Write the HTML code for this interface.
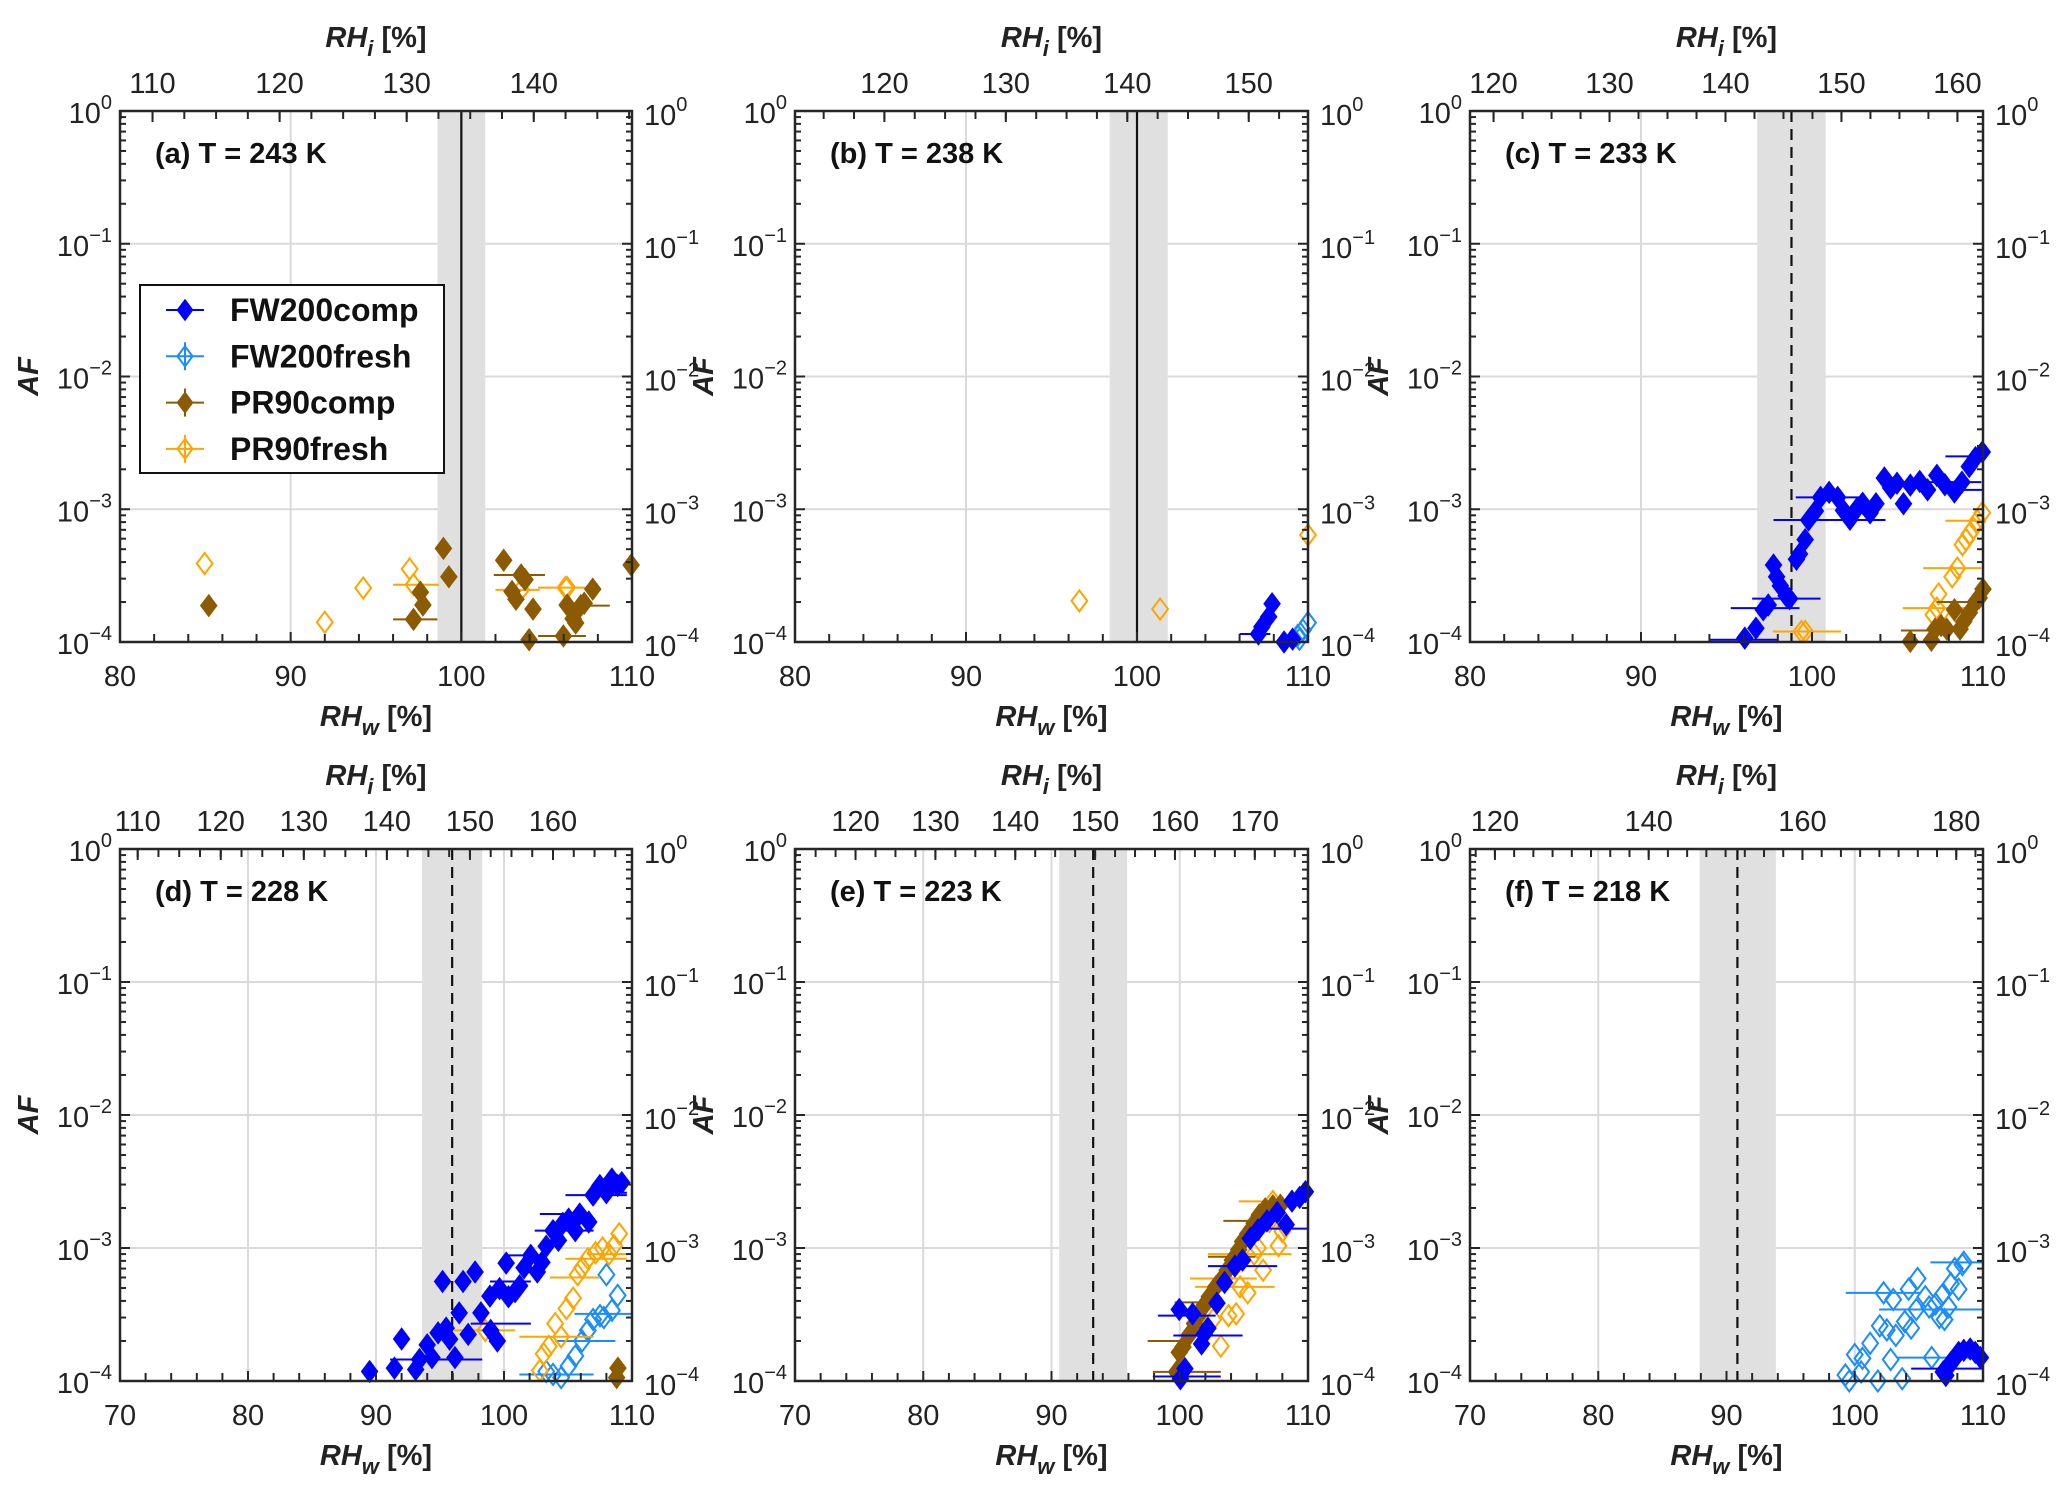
<!DOCTYPE html>
<html><head><meta charset="utf-8"><style>
body{margin:0;background:#fff}
svg{display:block;font-family:"Liberation Sans",Arial,sans-serif}
</style></head><body>
<svg id="fig" width="2067" height="1494" viewBox="0 0 2067 1494" xmlns="http://www.w3.org/2000/svg"></svg>
<script>
// ---------- data ----------
const panelIds = ['a','b','c','d','e','f'];
const panelTitles = ['(a) T = 243 K','(b) T = 238 K','(c) T = 233 K','(d) T = 228 K','(e) T = 223 K','(f) T = 218 K'];
const xMins = [80,80,80,70,70,70];
const xMaxs = [110,110,110,110,110,110];
const rhiRatio = [1.343,1.408,1.4746,1.541,1.606,1.668];
const rhiTicksA = [110,120,130,140];
const rhiTicksB = [120,130,140,150];
const rhiTicksC = [120,130,140,150,160];
const rhiTicksD = [110,120,130,140,150,160];
const rhiTicksE = [120,130,140,150,160,170];
const rhiTicksF = [120,140,160,180];
const xTicksTop = [80,90,100,110];
const xTicksBottom = [70,80,90,100,110];
const yDecades = [0,-1,-2,-3,-4];
const bandLo = [98.6,98.4,96.8,93.6,90.6,87.9];
const bandHi = [101.4,101.8,100.8,98.3,95.9,93.85];
const refLine = [100,100,98.8,95.95,93.25,90.85];
const refDashed = [false,false,true,true,true,true];
const seriesNames = ['FW200comp','FW200fresh','PR90comp','PR90fresh'];
const seriesColors = ['#0000ff','#1a8cff','#8c5a00','#ffa500'];
const seriesFilled = [true,false,true,false];

// panel a
const a_PR90fresh_x = [84.96,92.0,94.25,96.97,97.2,103.5,106.1,106.2];
const a_PR90fresh_y = [3.9e-4,1.41e-4,2.55e-4,3.55e-4,2.7e-4,2.47e-4,2.57e-4,2.57e-4];
const a_PR90fresh_err = [[2.7e-4,96,98.7],[2.47e-4,102,104.6],[2.57e-4,104.5,108]];
const a_PR90comp_x = [85.2,97.2,97.6,97.75,98.95,99.27,102.48,103.5,103.73,102.97,103.2,104.2,103.97,105.98,106.2,106.7,106.55,107.0,107.2,107.7,109.95];
const a_PR90comp_y = [1.88e-4,1.48e-4,2.37e-4,1.9e-4,5.07e-4,3.1e-4,4.13e-4,3.2e-4,2.95e-4,2.4e-4,2.1e-4,1.77e-4,1.04e-4,1.11e-4,1.9e-4,1.39e-4,1.5e-4,1.88e-4,1.96e-4,2.5e-4,3.8e-4];
const a_PR90comp_err = [[1.48e-4,96,98.6],[3.2e-4,101.9,104.9],[1.11e-4,104.5,107.3],[1.88e-4,106,108.7]];
// panel b
const b_PR90fresh_x = [96.63,101.35,110];
const b_PR90fresh_y = [2.04e-4,1.77e-4,6.4e-4];
const b_FW200comp_x = [107.1,107.3,107.7,107.9,108.6,109.1];
const b_FW200comp_y = [1.15e-4,1.3e-4,1.55e-4,1.94e-4,1.0e-4,1.05e-4];
const b_FW200comp_err = [[1.15e-4,106,107.8]];
const b_FW200fresh_x = [109.4,109.5,109.7,110];
const b_FW200fresh_y = [1.12e-4,1.05e-4,1.23e-4,1.4e-4];
// panel c
const c_FW200comp_x = [96.07,96.72,97.15,97.44,97.75,97.93,98.15,98.49,98.69,99.09,99.27,99.6,99.8,100.2,100.5,101.0,101.5,101.84,102.22,102.6,102.96,103.4,103.74,104.23,104.6,104.97,105.35,105.75,106.3,106.76,107.3,107.77,108.33,108.77,109.2,109.56,109.96];
const c_FW200comp_y = [1.07e-4,1.27e-4,1.75e-4,1.9e-4,3.8e-4,3.1e-4,2.65e-4,2.23e-4,2.12e-4,4.2e-4,4.6e-4,5.9e-4,8.3e-4,9.7e-4,1.23e-3,1.34e-3,1.23e-3,9.8e-4,8.4e-4,1.0e-3,1.11e-3,9.4e-4,1.1e-3,1.72e-3,1.45e-3,1.57e-3,1.1e-3,1.52e-3,1.62e-3,1.4e-3,1.8e-3,1.53e-3,1.35e-3,1.6e-3,2.1e-3,2.45e-3,2.7e-3];
const c_FW200comp_err = [[1.04e-4,94.0,98.0],[1.8e-4,95.25,99.27],[2.12e-4,96.5,100.5],[8.3e-4,97.75,104.3],[1.23e-3,99.05,102.96],[1.6e-3,105.3,109.9],[1.4e-3,107.8,110],[2.5e-3,107.8,109.9]];
const c_PR90fresh_x = [99.38,99.6,107.1,107.3,107.4,108.0,108.2,108.5,108.8,109.0,109.2,109.44,109.67,109.96];
const c_PR90fresh_y = [1.2e-4,1.2e-4,1.6e-4,1.8e-4,2.3e-4,1.38e-4,3.1e-4,3.6e-4,5.4e-4,5.9e-4,6.5e-4,7.2e-4,8.2e-4,9.4e-4];
const c_PR90fresh_err = [[1.2e-4,97.7,101.7],[1.8e-4,105.3,109.3],[3.6e-4,106.5,109.9],[8.2e-4,107.8,110]];
const c_PR90comp_x = [105.75,106.98,107.2,107.55,107.88,108.33,108.66,108.88,109.2,109.56,109.78,110];
const c_PR90comp_y = [1.01e-4,1.03e-4,1.25e-4,1.33e-4,1.25e-4,1.75e-4,1.25e-4,1.43e-4,1.66e-4,2.0e-4,2.15e-4,2.5e-4];
const c_PR90comp_err = [[1.22e-4,105.2,107.5],[2.0e-4,107.3,109.8]];
// panel d
const d_FW200comp_x = [89.5,91.44,92.0,93.1,93.4,94.0,94.37,94.85,95.2,95.48,95.75,96.17,96.5,96.8,97.2,97.74,98.2,98.96,98.9,99.48,99.65,100.17,100.35,100.87,101.22,101.57,102.09,102.6,102.96,103.3,103.83,104.25,104.6,105.05,105.57,105.92,106.62,106.96,107.49,108.0,108.43,108.88,109.2];
const d_FW200comp_y = [1.18e-4,1.25e-4,2.07e-4,1.22e-4,1.45e-4,1.87e-4,1.5e-4,2.3e-4,5.6e-4,2.5e-4,2.06e-4,1.5e-4,3.25e-4,5.6e-4,2.24e-4,6.6e-4,3.25e-4,2.4e-4,4.35e-4,2.0e-4,4.95e-4,7.7e-4,4.3e-4,4.7e-4,5.2e-4,7.1e-4,8.8e-4,6.6e-4,7.8e-4,1.03e-3,1.35e-3,1.14e-3,1.53e-3,1.65e-3,1.35e-3,1.8e-3,1.57e-3,2.5e-3,2.95e-3,2.6e-3,3.3e-3,2.95e-3,3.1e-3];
const d_FW200comp_err = [[1.45e-4,91.1,98.3],[2.7e-4,97.4,102.1],[5.6e-4,98.9,102.1],[8.8e-4,100.3,103.3],[1.35e-3,102.4,107.0],[1.8e-3,102.8,106.2],[2.5e-3,104.8,109.6],[2.6e-3,107.2,109.6]];
const d_PR90fresh_x = [98.54,102.8,103.1,103.5,104.0,104.46,104.88,105.4,105.75,106.1,106.55,107.15,107.7,108.2,108.6,109.0];
const d_PR90fresh_y = [2.4e-4,1.2e-4,1.6e-4,1.82e-4,2.7e-4,2.15e-4,3.5e-4,4.2e-4,6.3e-4,7.1e-4,8.3e-4,9.2e-4,1.0e-3,9.0e-4,1.04e-3,1.28e-3];
const d_PR90fresh_err = [[2.4e-4,96.1,100.87],[2.15e-4,101.2,107.0],[6.0e-4,103.6,107.5],[8.3e-4,104.8,109.6],[9.0e-4,106.5,109.6]];
const d_FW200fresh_x = [103.3,103.83,104.46,105.05,105.57,106.1,106.55,106.96,107.5,107.8,108.43,108.88,108.0];
const d_FW200fresh_y = [1.18e-4,1.12e-4,1.06e-4,1.3e-4,1.54e-4,2.0e-4,2.4e-4,2.9e-4,3.1e-4,3.0e-4,3.4e-4,4.4e-4,6.3e-4];
const d_FW200fresh_err = [[1.12e-4,101.2,107.0],[3.2e-4,105.5,110],[2.0e-4,104.0,108.7]];
const d_PR90comp_x = [108.8,108.9];
const d_PR90comp_y = [1.06e-4,1.25e-4];
// panel e
const e_PR90comp_x = [99.75,99.96,100.25,100.7,101.15,101.45,101.9,102.3,102.8,103.2,103.7,104.1,104.6,104.9,105.3,105.8,106.2,106.66,107.26,107.85];
const e_PR90comp_y = [1.17e-4,1.64e-4,1.8e-4,2.2e-4,2.7e-4,3.1e-4,3.7e-4,4.3e-4,5.1e-4,5.7e-4,6.8e-4,8.1e-4,9.7e-4,1.12e-3,1.28e-3,1.53e-3,1.77e-3,1.97e-3,2.08e-3,2.1e-3];
const e_PR90comp_err = [[1.17e-4,97.9,103.2],[2.0e-4,97.5,101.0],[3.9e-4,99.6,103.2],[1.6e-3,103.4,108.6],[8.6e-4,102.2,105.9]];
const e_FW200comp_x = [100.05,100.4,99.96,101.0,101.9,101.7,102.2,102.9,103.5,104.3,104.9,105.5,106.1,106.8,107.6,108.3,108.75,109.35,109.8];
const e_FW200comp_y = [1.04e-4,1.24e-4,3.45e-4,3.2e-4,2.25e-4,1.9e-4,2.5e-4,3.85e-4,5.5e-4,7.3e-4,8.1e-4,1.18e-3,1.37e-3,1.6e-3,1.85e-3,1.5e-3,2.25e-3,2.4e-3,2.65e-3];
const e_FW200comp_err = [[1.08e-4,97.9,103.2],[3.1e-4,98.3,102.8],[2.2e-4,99.5,104.9],[7.3e-4,102.2,107.6],[1.4e-3,106.0,110]];
const e_PR90fresh_x = [101.9,102.6,103.2,103.5,103.8,104.4,104.7,105.3,105.8,106.1,106.5,107.0,107.26,107.7,108.0,108.2];
const e_PR90fresh_y = [2.4e-4,2.9e-4,1.83e-4,5.9e-4,3.1e-4,3.2e-4,5.1e-4,4.6e-4,9.0e-4,1.0e-3,6.8e-4,1.58e-3,2.24e-3,1.04e-3,1.33e-3,1.45e-3];
const e_PR90fresh_err = [[5.9e-4,100.8,106.0],[2.24e-3,104.6,109.9],[9.0e-4,102.2,108.7],[5.1e-4,101.2,107.4]];
// panel f
const f_FW200fresh_x = [99.27,99.57,100.0,100.6,100.5,101.2,101.8,101.95,102.25,102.5,102.8,103.0,103.2,103.7,103.9,104.2,104.4,104.8,104.9,105.5,105.8,106.0,106.3,106.6,106.8,107.0,107.3,107.5,107.8,108.1,108.4,108.5];
const f_FW200fresh_y = [1.11e-4,1.0e-4,1.58e-4,1.48e-4,1.17e-4,1.92e-4,1.0e-4,2.6e-4,4.6e-4,2.42e-4,1.45e-4,4.1e-4,2.2e-4,1.04e-4,2.8e-4,4.9e-4,2.5e-4,3.45e-4,5.9e-4,4.3e-4,3.6e-4,1.5e-4,3.8e-4,3.0e-4,4.4e-4,2.9e-4,3.6e-4,5.4e-4,7.0e-4,4.9e-4,7.5e-4,7.8e-4];
const f_FW200fresh_err = [[4.6e-4,99.3,105.2],[3.45e-4,101.9,110],[1.5e-4,103.3,109.5],[7.8e-4,105.9,110]];
const f_FW200comp_x = [107.1,106.9,107.2,107.5,107.8,108.1,108.5,109.0,109.4,109.8];
const f_FW200comp_y = [1.1e-4,1.17e-4,1.24e-4,1.38e-4,1.48e-4,1.64e-4,1.7e-4,1.74e-4,1.64e-4,1.5e-4];
const f_FW200comp_err = [[1.24e-4,104.4,110]];

// ---------- layout ----------
const NS='http://www.w3.org/2000/svg';
const svg=document.getElementById('fig');
const colX=[[120,632],[795,1308],[1470,1983]];
const rowY=[[111,642],[849,1381]];
const rhiTickSets=[rhiTicksA,rhiTicksB,rhiTicksC,rhiTicksD,rhiTicksE,rhiTicksF];
const seriesByPanel={
 a:{PR90fresh:[a_PR90fresh_x,a_PR90fresh_y,a_PR90fresh_err],PR90comp:[a_PR90comp_x,a_PR90comp_y,a_PR90comp_err]},
 b:{PR90fresh:[b_PR90fresh_x,b_PR90fresh_y,[]],FW200comp:[b_FW200comp_x,b_FW200comp_y,b_FW200comp_err],FW200fresh:[b_FW200fresh_x,b_FW200fresh_y,[]]},
 c:{PR90comp:[c_PR90comp_x,c_PR90comp_y,c_PR90comp_err],PR90fresh:[c_PR90fresh_x,c_PR90fresh_y,c_PR90fresh_err],FW200comp:[c_FW200comp_x,c_FW200comp_y,c_FW200comp_err]},
 d:{FW200fresh:[d_FW200fresh_x,d_FW200fresh_y,d_FW200fresh_err],PR90fresh:[d_PR90fresh_x,d_PR90fresh_y,d_PR90fresh_err],FW200comp:[d_FW200comp_x,d_FW200comp_y,d_FW200comp_err],PR90comp:[d_PR90comp_x,d_PR90comp_y,[]]},
 e:{FW200comp:[e_FW200comp_x,e_FW200comp_y,e_FW200comp_err],PR90comp:[e_PR90comp_x,e_PR90comp_y,e_PR90comp_err],PR90fresh:[e_PR90fresh_x,e_PR90fresh_y,e_PR90fresh_err]},
 f:{FW200fresh:[f_FW200fresh_x,f_FW200fresh_y,f_FW200fresh_err],FW200comp:[f_FW200comp_x,f_FW200comp_y,f_FW200comp_err]}
};

function el(tag,attrs,parent){const e=document.createElementNS(NS,tag);for(const k in attrs)e.setAttribute(k,attrs[k]);(parent||svg).appendChild(e);return e;}
function diamond(g,cx,cy,color,filled,r){
  return el('polygon',{points:`${cx},${cy-r} ${cx+r*0.75},${cy} ${cx},${cy+r} ${cx-r*0.75},${cy}`,fill:filled?color:'none',stroke:color,'stroke-width':filled?1.5:2},g);
}
function powLabel(g,x,y,exp,anchor){
  const t=el('text',{x:x,y:y,'font-size':29,'text-anchor':anchor,fill:'#222'},g);
  t.appendChild(document.createTextNode('10'));
  const s=el('tspan',{dy:-14,'font-size':20},t);
  s.textContent=exp===0?'0':'−'+(-exp);
  return t;
}

panelIds.forEach((pid,i)=>{
  const [x0,x1]=colX[i%3],[y0,y1]=rowY[Math.floor(i/3)];
  const xmin=xMins[i],xmax=xMaxs[i];
  const sx=v=>x0+(v-xmin)/(xmax-xmin)*(x1-x0);
  const sy=v=>y1-(Math.log10(v)+4)/4*(y1-y0);
  const sxi=v=>sx(v/rhiRatio[i]);
  const g=el('g',{});
  
  
  const xt=xmin===80?xTicksTop:xTicksBottom;
  xt.forEach(v=>{if(v>xmin&&v<xmax)el('line',{x1:sx(v),x2:sx(v),y1:y0,y2:y1,stroke:'#dadada','stroke-width':2},g);});
  yDecades.forEach(d=>{if(d>-4&&d<0)el('line',{x1:x0,x2:x1,y1:sy(Math.pow(10,d)),y2:sy(Math.pow(10,d)),stroke:'#dadada','stroke-width':2},g);});
  const band=el('rect',{x:sx(bandLo[i]),y:y0,width:sx(bandHi[i])-sx(bandLo[i]),height:y1-y0,fill:'#e0e0e0'},g);
  
  
  const rl=el('line',{x1:sx(refLine[i]),x2:sx(refLine[i]),y1:y0,y2:y1,stroke:'#111','stroke-width':2.2},g);
  if(refDashed[i])rl.setAttribute('stroke-dasharray','11,7');
  
  
  const ser=seriesByPanel[pid];
  ['FW200fresh','PR90fresh','PR90comp','FW200comp'].forEach(name=>{
    if(!ser[name])return;
    const si=seriesNames.indexOf(name),col=seriesColors[si];
    const [xs,ys,errs]=ser[name];
    const sg=el('g',{},g);
    
    
    errs.forEach(e=>{
      const ln=el('line',{x1:sx(e[1]),x2:sx(e[2]),y1:sy(e[0]),y2:sy(e[0]),stroke:col,'stroke-width':2},sg);
      
      
    });
    xs.forEach((xv,k)=>{
      const m=diamond(sg,sx(Math.min(xv,xmax)),sy(ys[k]),col,seriesFilled[si],10.5);
      
      
    });
  });
  el('rect',{x:x0,y:y0,width:x1-x0,height:y1-y0,fill:'none',stroke:'#262626','stroke-width':2.5},g);
  for(let v=xmin;v<=xmax;v+=2){const L=(v%10===0)?10:8;el('line',{x1:sx(v),x2:sx(v),y1:y1,y2:y1-L,stroke:'#262626','stroke-width':2},g);}
  xt.forEach(v=>{const t=el('text',{x:sx(v),y:y1+44,'font-size':29,'text-anchor':'middle',fill:'#222'},g);t.textContent=v;
    });
  const rlo=xmin*rhiRatio[i],rhi=xmax*rhiRatio[i];
  for(let v=Math.ceil(rlo/2.5)*2.5;v<=rhi;v+=2.5){el('line',{x1:sxi(v),x2:sxi(v),y1:y0,y2:y0+8,stroke:'#262626','stroke-width':2},g);}
  rhiTickSets[i].forEach(v=>{el('line',{x1:sxi(v),x2:sxi(v),y1:y0,y2:y0+11,stroke:'#262626','stroke-width':2},g);
    const t=el('text',{x:sxi(v),y:y0-18,'font-size':29,'text-anchor':'middle',fill:'#222'},g);t.textContent=v;
    });
  for(let d=-4;d<0;d++){for(let m=1;m<10;m++){const yy=sy(m*Math.pow(10,d));const L=m===1?10:6;
    el('line',{x1:x0,x2:x0+L,y1:yy,y2:yy,stroke:'#262626','stroke-width':2},g);
    el('line',{x1:x1,x2:x1-L,y1:yy,y2:yy,stroke:'#262626','stroke-width':2},g);}}
  yDecades.forEach(d=>{const yy=sy(Math.pow(10,d));
    const tl=powLabel(g,x0-8,yy+12,d,'end');
    const tr=powLabel(g,x1+12,yy+14,d,'start');});
  const tt=el('text',{x:(x0+x1)/2,y:y0-64,'font-size':29,'font-weight':'bold','font-style':'italic','text-anchor':'middle',fill:'#222'},g);
  tt.appendChild(document.createTextNode('RH'));
  const ts=el('tspan',{dy:9,'font-size':22},tt);ts.textContent='i';
  const ts2=el('tspan',{dy:-9,'font-style':'normal'},tt);ts2.textContent=' [%]';
  
  const bt=el('text',{x:(x0+x1)/2,y:y1+84,'font-size':29,'font-weight':'bold','font-style':'italic','text-anchor':'middle',fill:'#222'},g);
  bt.appendChild(document.createTextNode('RH'));
  const bs=el('tspan',{dy:9,'font-size':22},bt);bs.textContent='w';
  const bs2=el('tspan',{dy:-9,'font-style':'normal'},bt);bs2.textContent=' [%]';
  
  const yt=el('text',{x:0,y:0,'font-size':29,'font-weight':'bold','font-style':'italic','text-anchor':'middle',fill:'#222',transform:`translate(${x0-82},${(y0+y1)/2}) rotate(-90)`},g);
  yt.textContent='AF';
  
  const pt=el('text',{x:x0+35,y:y0+52,'font-size':29,'font-weight':'bold',fill:'#111'},g);
  pt.textContent=panelTitles[i];
  
});

const lg=el('g',{});


el('rect',{x:140,y:285,width:304,height:188,fill:'#fff',stroke:'#111','stroke-width':2},lg);
seriesNames.forEach((n,k)=>{
  const yy=310+k*46.3,col=seriesColors[k];
  const eg=el('g',{},lg);
  
  
  el('line',{x1:166,x2:204,y1:yy,y2:yy,stroke:col,'stroke-width':2},eg);
  if(k>0)el('line',{x1:185,x2:185,y1:yy-14,y2:yy+14,stroke:col,'stroke-width':2},eg);
  diamond(eg,185,yy,col,seriesFilled[k],10);
  const t=el('text',{x:230,y:yy+11,'font-size':32,'font-weight':'bold',fill:'#111'},eg);
  t.textContent=n;
});
</script>
</body></html>
